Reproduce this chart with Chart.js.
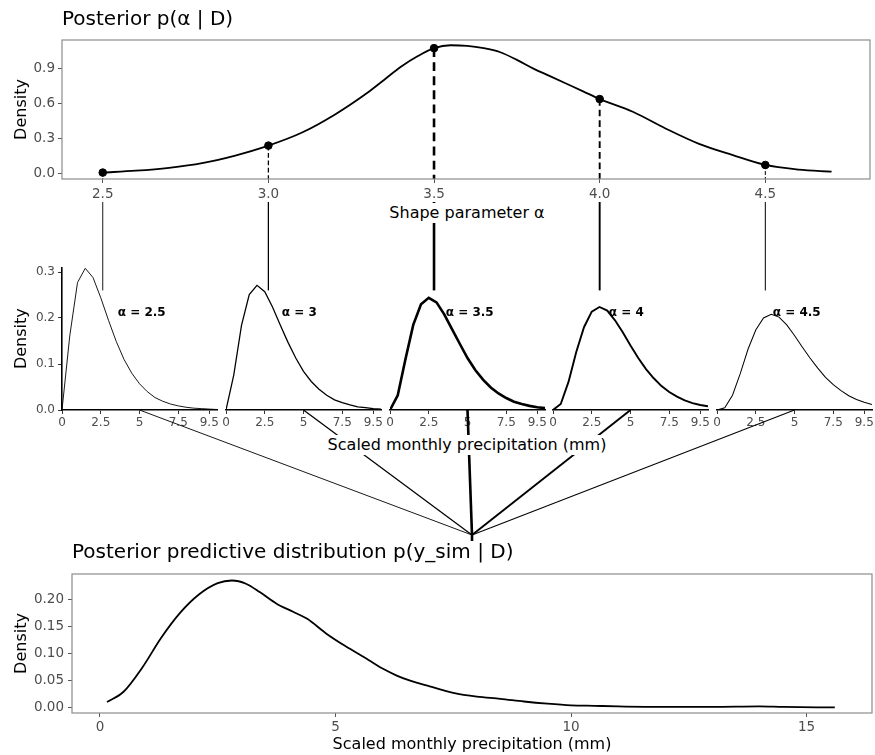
<!DOCTYPE html>
<html>
<head>
<meta charset="utf-8">
<script src="https://cdn.jsdelivr.net/npm/chart.js@4.4.1/dist/chart.umd.min.js"></script>
<style>
  body { margin: 0; background: #fff; }
  #fig { position: relative; width: 875px; height: 755px; overflow: hidden; background: #fff; }
  #fig canvas { position: absolute; }
  .axis-title {
    position: absolute; transform: translateX(-50%);
    font: 16px 'DejaVu Sans', sans-serif; line-height: 20px;
    color: #000; background: #fff; padding: 0 2px; white-space: nowrap; z-index: 3;
  }
</style>
</head>
<body>
<div id="fig">
  <canvas id="topChart" width="875" height="226" style="left:0;top:0"></canvas>
  <canvas id="bottomChart" width="875" height="225" style="left:0;top:530px"></canvas>
  <canvas id="links" width="875" height="755" style="left:0;top:0;z-index:2"></canvas>
  <div class="axis-title" style="left:467px;top:203px">Shape parameter α</div>
  <div class="axis-title" style="left:467px;top:435px">Scaled monthly precipitation (mm)</div>
</div>
<script>
// posterior of the shape parameter
var alphaGrid = [2.5, 2.6, 2.7, 2.8, 2.9, 3.0, 3.1, 3.2, 3.3, 3.35, 3.4, 3.45, 3.5, 3.55, 3.6, 3.65, 3.7, 3.75, 3.8, 3.85, 3.9, 3.95, 4.0, 4.1, 4.2, 4.3, 4.4, 4.5, 4.6, 4.7];
var postDensity = [0.004, 0.02, 0.045, 0.085, 0.15, 0.235, 0.345, 0.50, 0.69, 0.80, 0.91, 1.00, 1.07, 1.095, 1.09, 1.07, 1.035, 0.97, 0.895, 0.83, 0.765, 0.70, 0.634, 0.525, 0.38, 0.25, 0.155, 0.069, 0.03, 0.012];

// selected alpha values and their posterior density
var alphaValues = [2.5, 3, 3.5, 4, 4.5];
var alphaDensity = [0.004, 0.235, 1.07, 0.634, 0.069];

// gamma densities for each selected alpha
var precipGrid = [0, 0.5, 1, 1.5, 2, 2.5, 3, 3.5, 4, 4.5, 5, 5.5, 6, 6.5, 7, 7.5, 8, 8.5, 9, 9.5, 10];
var densAlpha25 = [0, 0.161, 0.277, 0.308, 0.288, 0.244, 0.195, 0.149, 0.110, 0.080, 0.057, 0.040, 0.027, 0.019, 0.013, 0.009, 0.006, 0.004, 0.003, 0.002, 0.001];
var densAlpha30 = [0, 0.076, 0.184, 0.251, 0.271, 0.257, 0.224, 0.185, 0.147, 0.113, 0.084, 0.062, 0.045, 0.032, 0.022, 0.016, 0.011, 0.007, 0.005, 0.003, 0.002];
var densAlpha35 = [0, 0.032, 0.111, 0.185, 0.230, 0.244, 0.234, 0.208, 0.176, 0.144, 0.113, 0.087, 0.066, 0.049, 0.036, 0.026, 0.018, 0.013, 0.009, 0.006, 0.004];
var densAlpha40 = [0, 0.013, 0.061, 0.126, 0.180, 0.214, 0.224, 0.216, 0.195, 0.169, 0.140, 0.113, 0.089, 0.069, 0.052, 0.039, 0.029, 0.021, 0.015, 0.011, 0.008];
var densAlpha45 = [0, 0.005, 0.032, 0.079, 0.132, 0.174, 0.200, 0.208, 0.202, 0.185, 0.162, 0.137, 0.113, 0.091, 0.071, 0.055, 0.042, 0.031, 0.023, 0.017, 0.012];

// posterior predictive
var ysimX = [0.15, 0.5, 0.9, 1.3, 1.7, 2.1, 2.5, 2.8, 3.1, 3.4, 3.75, 4.1, 4.4, 4.8, 5.2, 5.7, 6.0, 6.3, 6.6, 7.0, 7.5, 8.0, 8.5, 9.0, 9.5, 10.0, 10.5, 11.0, 12.0, 13.0, 14.0, 14.5, 15.6];
var ysimDensity = [0.011, 0.030, 0.075, 0.130, 0.176, 0.210, 0.231, 0.236, 0.230, 0.214, 0.193, 0.178, 0.165, 0.138, 0.115, 0.089, 0.073, 0.060, 0.050, 0.040, 0.028, 0.021, 0.017, 0.012, 0.008, 0.005, 0.004, 0.003, 0.002, 0.002, 0.003, 0.002, 0.001];

// tick labels
var topXTicks = [2.5, 3.0, 3.5, 4.0, 4.5];
var topYTicks = [0, 0.3, 0.6, 0.9];
var midXTicks = [0, 2.5, 5, 7.5, 9.5];
var midYTicks = [0, 0.1, 0.2, 0.3];
var botXTicks = [0, 5, 10, 15];
var botYTicks = [0, 0.05, 0.10, 0.15, 0.20];

var panelDensity = [densAlpha25, densAlpha30, densAlpha35, densAlpha40, densAlpha45];

Chart.defaults.font.family = "'DejaVu Sans', sans-serif";
Chart.defaults.color = '#4d4d4d';
Chart.defaults.animation = false;
Chart.defaults.events = [];
Chart.defaults.plugins.legend.display = false;
Chart.defaults.plugins.tooltip.enabled = false;

// line width grows with posterior weight
function weightWidth(d) { return 0.9 + 1.6 * d; }

function fixedTicks(list) {
  return function (scale) { scale.ticks = list.map(function (v) { return { value: v }; }); };
}

function xy(xs, ys) { return xs.map(function (x, i) { return { x: x, y: ys[i] }; }); }

var panelBorder = {
  id: 'panelBorder',
  afterDraw: function (chart) {
    var a = chart.chartArea, ctx = chart.ctx;
    ctx.save();
    ctx.strokeStyle = '#8c8c8c';
    ctx.lineWidth = 1.2;
    ctx.strokeRect(a.left, a.top, a.width, a.height);
    ctx.restore();
  }
};

// dashed drop lines under each selected alpha
var dropLines = {
  id: 'dropLines',
  beforeDatasetsDraw: function (chart) {
    var ctx = chart.ctx, x = chart.scales.x, y = chart.scales.y;
    ctx.save();
    ctx.strokeStyle = '#000';
    alphaValues.forEach(function (a, i) {
      var w = weightWidth(alphaDensity[i]);
      ctx.lineWidth = w;
      ctx.setLineDash([3 * w + 1, 2 * w]);
      ctx.beginPath();
      ctx.moveTo(x.getPixelForValue(a), y.getPixelForValue(alphaDensity[i]));
      ctx.lineTo(x.getPixelForValue(a), chart.chartArea.bottom);
      ctx.stroke();
    });
    ctx.restore();
  }
};

var alphaLabel = {
  id: 'alphaLabel',
  afterDatasetsDraw: function (chart, args, opts) {
    var ctx = chart.ctx;
    ctx.save();
    ctx.font = "bold 12px 'DejaVu Sans', sans-serif";
    ctx.fillStyle = '#000';
    ctx.textBaseline = 'middle';
    ctx.fillText(opts.text, chart.scales.x.getPixelForValue(3.6), chart.scales.y.getPixelForValue(0.211));
    ctx.restore();
  }
};

var topChart = new Chart('topChart', {
  type: 'line',
  data: {
    datasets: [{
      data: xy(alphaGrid, postDensity),
      borderColor: '#000', borderWidth: 1.8, pointRadius: 0,
      cubicInterpolationMode: 'monotone'
    }, {
      data: xy(alphaValues, alphaDensity),
      showLine: false, pointRadius: 3.8,
      pointBackgroundColor: '#000', pointBorderColor: '#000'
    }]
  },
  options: {
    responsive: false,
    layout: { padding: { left: 0, right: 3, top: 0, bottom: 0 } },
    plugins: {
      title: {
        display: true, text: 'Posterior p(α | D)', align: 'start', fullSize: false,
        color: '#000', font: { size: 20, weight: 'normal' }, padding: { top: 8, bottom: 8 }
      }
    },
    scales: {
      x: {
        type: 'linear', min: 2.377, max: 4.816,
        afterBuildTicks: fixedTicks(topXTicks),
        afterFit: function (s) { s.height = 47; },
        ticks: { font: { size: 13.5 }, padding: 3, callback: function (v) { return v.toFixed(1); } },
        grid: { drawOnChartArea: false, tickLength: 4, color: '#555' },
        border: { display: false }
      },
      y: {
        min: -0.051, max: 1.14,
        afterBuildTicks: fixedTicks(topYTicks),
        afterFit: function (s) { s.width = 62; },
        ticks: { font: { size: 13.5 }, padding: 3, callback: function (v) { return v.toFixed(1); } },
        grid: { drawOnChartArea: false, tickLength: 4, color: '#555' },
        border: { display: false },
        title: { display: true, text: 'Density', color: '#000', font: { size: 16 }, padding: { top: 12, bottom: 0 } }
      }
    }
  },
  plugins: [panelBorder, dropLines]
});

// five small panels, one per alpha
var midCharts = [];
alphaValues.forEach(function (a, i) {
  var areaLeft = Math.round(62 + i * 163.75);
  var padLeft = i === 0 ? 0 : 8;
  var left = i === 0 ? 0 : areaLeft - padLeft;
  var canvas = document.createElement('canvas');
  canvas.width = (areaLeft - left) + 155 + 6;
  canvas.height = 200;
  canvas.style.left = left + 'px';
  canvas.style.top = '255px';
  document.getElementById('fig').appendChild(canvas);

  midCharts.push(new Chart(canvas, {
    type: 'line',
    data: {
      datasets: [{
        data: xy(precipGrid, panelDensity[i]),
        borderColor: '#000', borderWidth: weightWidth(alphaDensity[i]),
        pointRadius: 0, tension: 0
      }]
    },
    options: {
      responsive: false,
      layout: { padding: { left: padLeft, right: 6, top: 12.4, bottom: 0 } },
      plugins: { alphaLabel: { text: 'α = ' + a } },
      scales: {
        x: {
          type: 'linear', min: 0, max: 10,
          afterBuildTicks: fixedTicks(midXTicks),
          afterFit: function (s) { s.height = 45; },
          ticks: { font: { size: 12 }, padding: 2, maxRotation: 0, callback: function (v) { return String(v); } },
          grid: { drawOnChartArea: false, tickLength: 4, color: '#333' },
          border: { display: true, color: '#000', width: 1.6 }
        },
        y: {
          display: i === 0, min: 0, max: 0.31,
          afterBuildTicks: fixedTicks(midYTicks),
          afterFit: function (s) { s.width = i === 0 ? 62 : 0; },
          ticks: { font: { size: 12 }, padding: 3, callback: function (v) { return v.toFixed(1); } },
          grid: { drawOnChartArea: false, tickLength: 4, color: '#333' },
          border: { display: true, color: '#000', width: 1.6 },
          title: { display: true, text: 'Density', color: '#000', font: { size: 16 }, padding: { top: 12, bottom: 0 } }
        }
      }
    },
    plugins: [alphaLabel]
  }));
});

var bottomChart = new Chart('bottomChart', {
  type: 'line',
  data: {
    datasets: [{
      data: xy(ysimX, ysimDensity),
      borderColor: '#000', borderWidth: 1.8, pointRadius: 0,
      cubicInterpolationMode: 'monotone'
    }]
  },
  options: {
    responsive: false,
    layout: { padding: { left: 0, right: 3, top: 0, bottom: 0 } },
    plugins: {
      title: {
        display: true, text: 'Posterior predictive distribution p(y_sim | D)', align: 'start', fullSize: false,
        color: '#000', font: { size: 20, weight: 'normal' }, padding: { top: 11, bottom: 9 }
      }
    },
    scales: {
      x: {
        type: 'linear', min: -0.594, max: 16.39,
        afterBuildTicks: fixedTicks(botXTicks),
        afterFit: function (s) { s.height = 42; },
        ticks: { font: { size: 13.5 }, padding: 2, callback: function (v) { return String(v); } },
        grid: { drawOnChartArea: false, tickLength: 4, color: '#555' },
        border: { display: false },
        title: { display: true, text: 'Scaled monthly precipitation (mm)', color: '#000', font: { size: 16 }, padding: { top: 0, bottom: 1 } }
      },
      y: {
        min: -0.0093, max: 0.248,
        afterBuildTicks: fixedTicks(botYTicks),
        afterFit: function (s) { s.width = 72; },
        ticks: { font: { size: 13.5 }, padding: 4, callback: function (v) { return v.toFixed(2); } },
        grid: { drawOnChartArea: false, tickLength: 4, color: '#555' },
        border: { display: false },
        title: { display: true, text: 'Density', color: '#000', font: { size: 16 }, padding: { top: 12, bottom: 0 } }
      }
    }
  },
  plugins: [panelBorder]
});

// connectors: posterior -> per-alpha panels -> predictive
(function drawLinks() {
  var ctx = document.getElementById('links').getContext('2d');
  var tx = topChart.scales.x;
  var bArea = bottomChart.chartArea;
  var hubX = (bArea.left + bArea.right) / 2;
  var hubY = bottomChart.canvas.offsetTop + 5;
  ctx.strokeStyle = '#000';
  ctx.lineCap = 'butt';
  alphaValues.forEach(function (a, i) {
    var w = weightWidth(alphaDensity[i]);
    var m = midCharts[i];
    var ox = m.canvas.offsetLeft, oy = m.canvas.offsetTop;
    var x = tx.getPixelForValue(a);
    ctx.lineWidth = w;
    ctx.beginPath();
    ctx.moveTo(x, tx.top + 23);
    ctx.lineTo(x, oy + m.scales.y.getPixelForValue(0.26));
    ctx.stroke();

    ctx.beginPath();
    ctx.moveTo(ox + m.scales.x.getPixelForValue(5), oy + m.chartArea.bottom);
    ctx.lineTo(hubX, hubY);
    ctx.stroke();
  });
  ctx.lineWidth = weightWidth(alphaDensity[2]);
  ctx.beginPath();
  ctx.moveTo(hubX, hubY);
  ctx.lineTo(hubX, hubY + 6);
  ctx.stroke();
})();
</script>
</body>
</html>
